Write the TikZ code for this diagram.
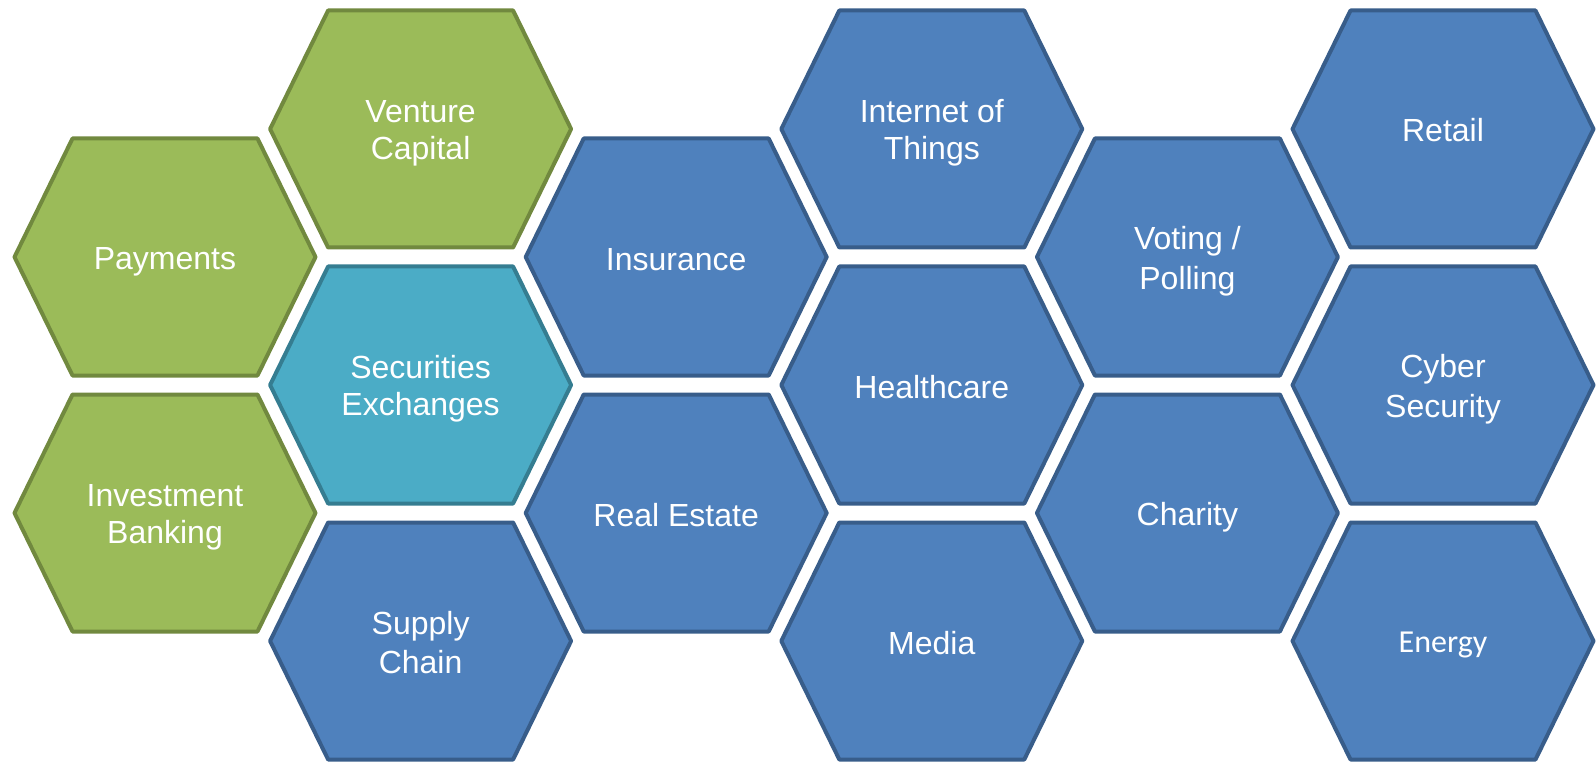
\documentclass[tikz,border=0pt]{standalone}
\usepackage{fontspec}
\setmainfont{Liberation Sans}
\newfontfamily\calfont{Carlito}
\definecolor{hgreen}{HTML}{9BBB59}
\definecolor{hgreenb}{HTML}{71893F}
\definecolor{hblue}{HTML}{4F81BD}
\definecolor{hblueb}{HTML}{385D8A}
\definecolor{hteal}{HTML}{4BACC6}
\definecolor{htealb}{HTML}{357D91}
\newcommand\lstrut{\rule[-5.5pt]{0pt}{37pt}}
\newcommand\estrut{\rule[-6.9pt]{0pt}{37pt}}
\tikzset{
  hexgreen/.style={fill=hgreen, draw=hgreenb, line width=4pt, line join=round},
  hexblue/.style={fill=hblue, draw=hblueb, line width=4pt, line join=round},
  hexteal/.style={fill=hteal, draw=htealb, line width=4pt, line join=round},
  hexlabel/.style={text=white, align=center, font=\fontsize{32}{37}\selectfont, inner sep=0pt}
}
\newcommand\hexcell[5]{%
  \draw[#4] (#2,#3) ++(-150.5,0) -- ++(58,-118.5) -- ++(185,0) -- ++(58,118.5)
     -- ++(-58,118.5) -- ++(-185,0) -- cycle;
  \node[hexlabel] (#1) at (#2,#3) {#5};
}
\begin{document}
\begin{tikzpicture}[x=1pt,y=-1pt]
\useasboundingbox (0,0) rectangle (1596,762);
% column 1
\hexcell{payments}{165}{257}{hexgreen}{\lstrut Payments}
\hexcell{invbank}{165}{513}{hexgreen}{\lstrut Investment\\\lstrut Banking}
% column 2
\hexcell{venture}{420.6}{129}{hexgreen}{\lstrut Venture\\\lstrut Capital}
\hexcell{secex}{420.6}{385}{hexteal}{\lstrut Securities\\\lstrut Exchanges}
\hexcell{supply}{420.6}{641}{hexblue}{\lstrut Supply\\\lstrut Chain}
% column 3
\hexcell{insurance}{676.2}{257}{hexblue}{\lstrut Insurance}
\hexcell{realestate}{676.2}{513}{hexblue}{\lstrut Real Estate}
% column 4
\hexcell{iot}{931.8}{129}{hexblue}{\lstrut Internet of\\\lstrut Things}
\hexcell{health}{931.8}{385}{hexblue}{\lstrut Healthcare}
\hexcell{media}{931.8}{641}{hexblue}{\lstrut Media}
% column 5
\hexcell{voting}{1187.4}{257}{hexblue}{\lstrut Voting /\\\lstrut Polling}
\hexcell{charity}{1187.4}{513}{hexblue}{\lstrut Charity}
% column 6
\hexcell{retail}{1443}{129}{hexblue}{\lstrut Retail}
\hexcell{cyber}{1443}{385}{hexblue}{\lstrut Cyber\\\lstrut Security}
\hexcell{energy}{1443}{641}{hexblue}{\calfont\fontsize{32}{37}\selectfont\estrut Energy}
\end{tikzpicture}
\end{document}
